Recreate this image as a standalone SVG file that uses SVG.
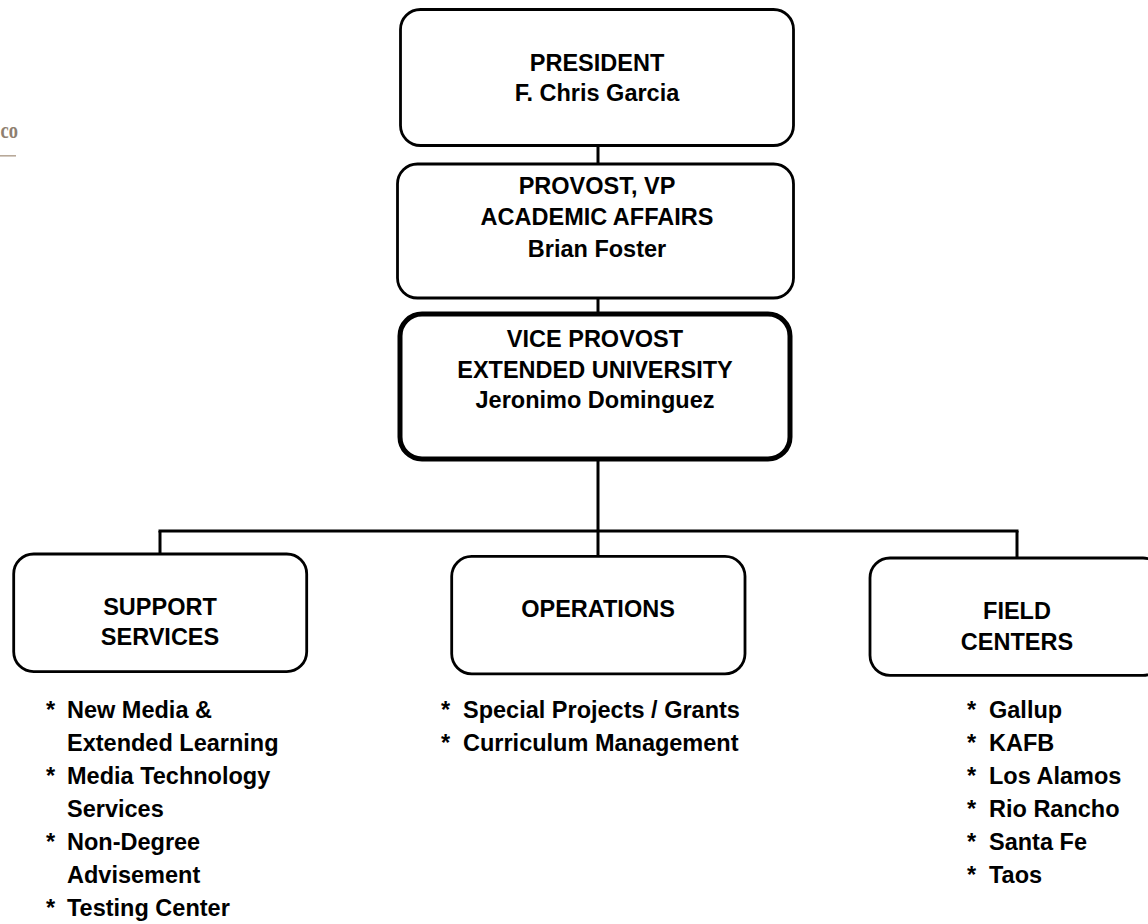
<svg xmlns="http://www.w3.org/2000/svg" width="1148" height="924" viewBox="0 0 1148 924">
<style>
.box{fill:#fff;stroke:#000;stroke-width:2.8}
.thick{fill:#fff;stroke:#000;stroke-width:5}
.t{font-family:"Liberation Sans",Arial,sans-serif;font-weight:bold;font-size:23.5px;fill:#000;text-anchor:middle}
.l{font-family:"Liberation Sans",Arial,sans-serif;font-weight:bold;font-size:23.5px;fill:#000}
.conn{stroke:#000;stroke-width:3;fill:none}
</style>
<rect width="1148" height="924" fill="#fff"/>
<g id="logo">
<text x="0.5" y="138" font-family="'Liberation Serif',serif" font-weight="bold" font-size="18.5" fill="#8f7f70" transform="translate(0,-41.4) scale(1,1.3)">co</text>
<line x1="0" y1="155.8" x2="16" y2="155.8" stroke="#b8a999" stroke-width="1.6"/>
</g>
<g id="connectors">
<line class="conn" x1="598" y1="146" x2="598" y2="164"/>
<line class="conn" x1="598" y1="298" x2="598" y2="314"/>
<line class="conn" x1="598" y1="459" x2="598" y2="531"/>
<line class="conn" x1="158.5" y1="531" x2="1018.5" y2="531"/>
<line class="conn" x1="160" y1="531" x2="160" y2="554"/>
<line class="conn" x1="598" y1="531" x2="598" y2="556"/>
<line class="conn" x1="1017" y1="531" x2="1017" y2="558"/>
</g>
<g id="president">
<rect class="box" x="400.5" y="9.5" width="393" height="136" rx="20"/>
<text class="t" x="597" y="71">PRESIDENT</text>
<text class="t" x="597" y="101">F. Chris Garcia</text>
</g>
<g id="provost">
<rect class="box" x="397.5" y="164" width="396" height="134" rx="20"/>
<text class="t" x="597" y="194">PROVOST, VP</text>
<text class="t" x="597" y="225">ACADEMIC AFFAIRS</text>
<text class="t" x="597" y="256.5">Brian Foster</text>
</g>
<g id="vice-provost">
<rect class="thick" x="400" y="314" width="390" height="145" rx="22"/>
<text class="t" x="595" y="347">VICE PROVOST</text>
<text class="t" x="595" y="377.5">EXTENDED UNIVERSITY</text>
<text class="t" x="595" y="408">Jeronimo Dominguez</text>
</g>
<g id="support-services">
<rect class="box" x="13.7" y="554" width="293" height="117.7" rx="20"/>
<text class="t" x="160" y="615">SUPPORT</text>
<text class="t" x="160" y="645">SERVICES</text>
<text class="l" x="46" y="718">*</text><text class="l" x="67" y="718">New Media &amp;</text>
<text class="l" x="67" y="751">Extended Learning</text>
<text class="l" x="46" y="784">*</text><text class="l" x="67" y="784">Media Technology</text>
<text class="l" x="67" y="817">Services</text>
<text class="l" x="46" y="850">*</text><text class="l" x="67" y="850">Non-Degree</text>
<text class="l" x="67" y="883">Advisement</text>
<text class="l" x="46" y="916">*</text><text class="l" x="67" y="916">Testing Center</text>
</g>
<g id="operations">
<rect class="box" x="451.7" y="556.3" width="293.3" height="117.5" rx="20"/>
<text class="t" x="598" y="617">OPERATIONS</text>
<text class="l" x="441" y="718">*</text><text class="l" x="463" y="718">Special Projects / Grants</text>
<text class="l" x="441" y="751">*</text><text class="l" x="463" y="751">Curriculum Management</text>
</g>
<g id="field-centers">
<rect class="box" x="870" y="558" width="293" height="117.3" rx="20"/>
<text class="t" x="1017" y="619">FIELD</text>
<text class="t" x="1017" y="650">CENTERS</text>
<text class="l" x="967" y="718">*</text><text class="l" x="989" y="718">Gallup</text>
<text class="l" x="967" y="751">*</text><text class="l" x="989" y="751">KAFB</text>
<text class="l" x="967" y="784">*</text><text class="l" x="989" y="784">Los Alamos</text>
<text class="l" x="967" y="817">*</text><text class="l" x="989" y="817">Rio Rancho</text>
<text class="l" x="967" y="850">*</text><text class="l" x="989" y="850">Santa Fe</text>
<text class="l" x="967" y="883">*</text><text class="l" x="989" y="883">Taos</text>
</g>
</svg>
